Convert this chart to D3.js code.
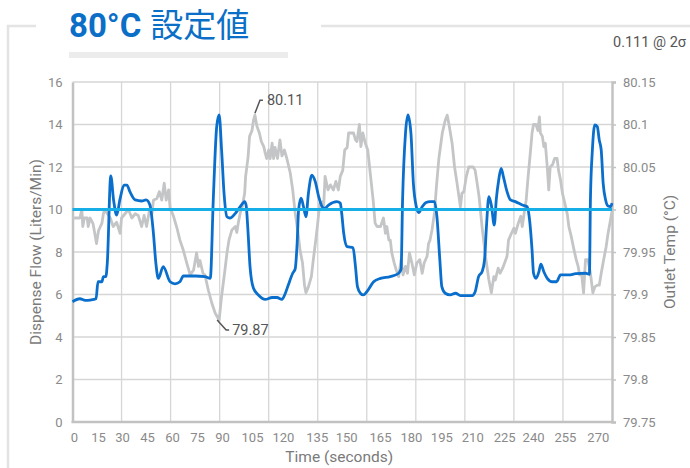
<!DOCTYPE html>
<html><head><meta charset="utf-8">
<script src="https://cdn.jsdelivr.net/npm/d3@7/dist/d3.min.js"></script>
<style>
html,body{margin:0;padding:0;background:#fff;}
svg{display:block;font-family:Roboto,"Noto Sans",sans-serif;}
</style></head>
<body><svg id="chart" width="690" height="468"></svg>
<script>
// ---- data ----
const titleMain = "80°C";
const titleSub = "設定値";
const noteText = "0.111 @ 2σ";
const setpointFlow = 10;
const flowTicks = [0,2,4,6,8,10,12,14,16];
const tempTicks = [79.75,79.8,79.85,79.9,79.95,80,80.05,80.1,80.15];
// time labels and the sample index where each label sits on the category axis
const timeLabels = [0,15,30,45,60,75,90,105,120,135,150,165,180,195,210,225,240,255,270];
const timeLabelIdx = [0.3,5.2,10.1,15.2,20.3,25.4,30.5,36.6,42.9,49.8,55.8,62.7,69.0,75.2,81.5,88.0,93.9,100.4,107.1];
const gridIdx = [0,10,20,30,40,50,60,70,80,90,100,110];
// dispense flow (L/min): [sample index, value]
const flow = [
[0,5.66],[1.5,5.8],[2.6,5.72],[3.6,5.74],[4.8,5.8],[5.2,6.6],[6.0,6.6],[6.3,6.84],[6.8,6.84],[7.1,7.5],[7.8,11.58],[8.4,10.4],[9.0,9.74],[9.7,10.5],[10.5,11.15],[11.1,11.15],[11.7,10.84],[12.8,10.45],[14.1,10.4],[15.0,10.45],[15.8,10.2],[16.5,8.88],[17.0,7.47],[17.5,6.76],[18.5,7.31],[19.9,6.6],[20.9,6.5],[21.9,6.6],[22.6,6.87],[25.0,6.87],[27.0,6.84],[28.1,6.76],[28.7,10.45],[29.4,13.9],[29.9,14.45],[30.4,12.8],[30.9,10.76],[31.5,9.66],[32.1,9.6],[33.2,9.82],[34.2,10.13],[35.1,10.37],[35.4,10.2],[35.8,8.9],[36.2,7.3],[36.9,6.29],[37.9,5.98],[39.3,5.77],[40.7,5.86],[41.7,5.86],[42.7,5.77],[43.4,6.06],[44.0,6.45],[44.9,7.0],[45.4,7.2],[45.8,8.4],[46.1,9.98],[46.6,10.53],[47.1,10.13],[47.6,9.66],[48.1,10.76],[48.8,11.62],[49.5,11.31],[50.2,10.6],[50.9,10.13],[51.4,10.05],[52.2,10.21],[53.9,10.37],[54.6,10.3],[54.9,9.8],[55.3,8.88],[56.0,8.25],[57.2,8.2],[57.7,7.3],[58.1,6.37],[58.7,6.06],[59.3,5.98],[60.0,6.13],[61.4,6.6],[62.8,6.76],[64.8,6.84],[66.5,7.0],[67.0,7.2],[67.3,10.45],[67.9,13.6],[68.4,14.45],[69.0,13.6],[69.5,11.23],[70.1,10.13],[70.6,9.85],[71.3,10.13],[72.1,10.33],[72.9,10.37],[73.8,10.37],[74.3,9.66],[74.9,7.62],[75.3,6.37],[76.0,6.06],[77.0,5.98],[78.1,6.06],[79.1,5.95],[81.5,5.95],[82.1,6.13],[82.8,6.84],[83.5,7.07],[84.0,7.6],[84.4,9.19],[84.9,10.6],[85.4,10.2],[86.0,9.27],[86.4,10.45],[86.9,11.39],[87.4,11.94],[87.9,11.5],[88.6,10.84],[89.3,10.45],[90.3,10.37],[91.7,10.21],[92.7,10.13],[93.2,9.5],[93.7,8.09],[94.0,7.0],[94.5,6.76],[95.1,7.07],[95.5,7.43],[96.1,7.07],[96.8,6.76],[97.8,6.6],[98.7,6.6],[99.5,6.92],[101.2,6.92],[102.6,6.98],[104.6,7.0],[105.4,6.95],[105.6,10.45],[106.0,12.8],[106.5,13.98],[107.0,13.9],[107.4,13.27],[107.8,12.8],[108.2,11.23],[108.7,10.45],[109.2,10.16],[109.7,10.13],[110,10.3]
];
// outlet temperature (°C): [sample index, value]
const temp = [
[0,79.990],[1.5,79.990],[1.9,80.000],[2.1,79.980],[2.4,79.990],[3.0,79.990],[3.2,79.980],[3.6,79.990],[4.2,79.983],[4.9,79.960],[5.3,79.975],[6.0,79.984],[6.3,79.995],[6.6,80.000],[7.1,79.995],[7.7,79.990],[8.3,79.980],[9.0,79.985],[9.7,79.972],[10.0,79.990],[10.7,79.995],[11.4,80.000],[12.1,79.990],[12.8,79.995],[13.4,79.993],[14.1,79.980],[14.6,79.993],[15.1,79.980],[15.7,79.999],[16.2,79.995],[16.5,80.011],[17.2,80.013],[17.7,80.021],[18.2,80.011],[18.7,80.031],[19.1,80.011],[19.6,80.023],[19.9,80.002],[20.6,79.992],[21.3,79.978],[21.9,79.964],[22.6,79.952],[23.3,79.937],[24.0,79.923],[24.7,79.929],[25.3,79.949],[25.7,79.933],[26.0,79.940],[26.6,79.925],[27.0,79.923],[27.7,79.905],[28.4,79.890],[29.1,79.878],[29.9,79.870],[30.4,79.898],[31.0,79.925],[31.5,79.949],[31.9,79.964],[32.5,79.976],[33.2,79.980],[33.5,79.973],[33.8,79.984],[34.2,79.996],[34.6,80.003],[35.1,80.019],[35.3,80.039],[35.8,80.062],[36.1,80.086],[36.6,80.093],[36.9,80.105],[37.2,80.111],[37.6,80.098],[38.1,80.090],[38.5,80.080],[39.0,80.074],[39.3,80.066],[39.6,80.060],[40.0,80.070],[40.3,80.060],[40.7,80.078],[41.0,80.060],[41.3,80.073],[41.8,80.060],[42.3,80.082],[42.7,80.063],[43.2,80.070],[43.7,80.060],[44.4,80.043],[44.9,80.023],[45.4,79.996],[46.0,79.972],[46.4,79.952],[46.9,79.937],[47.3,79.911],[47.6,79.902],[48.1,79.909],[48.7,79.921],[49.1,79.941],[49.6,79.964],[50.0,79.984],[50.4,80.007],[50.9,80.009],[51.2,80.003],[51.5,80.039],[52.1,80.023],[52.6,80.029],[53.2,80.023],[53.7,80.033],[54.2,80.023],[54.6,80.039],[55.1,80.046],[55.5,80.070],[56.0,80.073],[56.3,80.090],[57.3,80.090],[57.7,80.082],[58.0,80.080],[58.5,80.100],[58.8,80.074],[59.2,80.090],[59.7,80.078],[60.2,80.070],[60.7,80.043],[61.3,80.011],[61.7,79.984],[62.1,79.980],[62.8,79.980],[63.4,79.990],[63.8,79.972],[64.1,79.980],[64.5,79.964],[64.8,79.964],[65.1,79.949],[65.6,79.937],[66.0,79.929],[66.5,79.921],[67.0,79.941],[67.4,79.923],[67.9,79.933],[68.3,79.925],[68.7,79.949],[69.2,79.937],[69.7,79.923],[70.2,79.937],[70.8,79.941],[71.3,79.925],[71.7,79.937],[72.3,79.945],[72.6,79.960],[72.9,79.964],[73.3,79.976],[73.8,79.996],[74.2,80.027],[74.7,80.060],[75.4,80.090],[76.0,80.105],[76.4,80.111],[76.7,80.102],[77.4,80.078],[77.9,80.050],[78.4,80.031],[78.7,80.019],[79.1,80.003],[79.4,80.019],[79.8,80.021],[80.3,80.039],[80.8,80.050],[81.7,80.050],[82.1,80.046],[82.6,80.027],[82.9,80.015],[83.5,79.980],[84.2,79.945],[84.9,79.917],[85.4,79.902],[85.9,79.921],[86.2,79.917],[86.8,79.931],[87.2,79.925],[87.7,79.931],[88.1,79.937],[88.6,79.945],[88.9,79.964],[89.5,79.972],[90.0,79.978],[90.3,79.972],[90.9,79.984],[91.4,79.992],[91.7,79.980],[92.2,80.000],[92.5,80.011],[92.9,80.039],[93.4,80.070],[93.7,80.090],[94.0,80.100],[94.5,80.100],[94.9,80.093],[95.2,80.109],[95.4,80.090],[95.8,80.086],[96.1,80.074],[96.4,80.078],[96.8,80.050],[97.1,80.023],[97.4,80.050],[97.9,80.053],[98.3,80.060],[98.8,80.060],[99.1,80.046],[99.5,80.035],[99.9,80.019],[100.4,80.007],[100.9,79.994],[101.2,79.980],[101.7,79.968],[102.2,79.954],[102.7,79.941],[103.1,79.933],[103.4,79.923],[103.8,79.925],[104.2,79.902],[104.6,79.941],[105.1,79.941],[105.6,79.925],[106.1,79.902],[106.5,79.909],[107.0,79.911],[107.4,79.911],[107.8,79.925],[108.3,79.941],[108.8,79.956],[109.2,79.972],[109.7,79.988],[110,79.998]
];
const maxLabel = "80.11", minLabel = "79.87";

// ---- drawing ----
const svg = d3.select("#chart");
const L = 72.5, R = 612, T = 82, B = 422;
const x = d3.scaleLinear().domain([0,110]).range([L,R]);
const yL = d3.scaleLinear().domain([0,16]).range([B,T]);
const yR = d3.scaleLinear().domain([79.75,80.15]).range([B,T]);

const frameC = "#e4e4e4";
// frame
svg.append("path").attr("d","M8,468 V26 H36").attr("fill","none").attr("stroke",frameC).attr("stroke-width",2.5);
svg.append("line").attr("x1",321).attr("x2",690).attr("y1",26).attr("y2",26).attr("stroke",frameC).attr("stroke-width",2.5);
svg.append("rect").attr("x",69).attr("y",52).attr("width",219).attr("height",6).attr("fill","#ececec");

// title
const tt = svg.append("text").attr("x",69).attr("y",37).attr("fill","#0b6fc7").style("font-size","33px");
tt.append("tspan").attr("font-weight","bold").text(titleMain);
tt.append("tspan").attr("dx",9).attr("font-family","'Noto Sans CJK JP',sans-serif").attr("font-weight","normal").text(titleSub);
svg.append("text").attr("x",686).attr("y",47).attr("text-anchor","end").attr("fill","#555")
  .attr("font-family","Roboto, sans-serif").attr("font-weight","normal").attr("font-size","14.5px").text(noteText);

// grid
const gridC = "#d6d6d6";
svg.append("g").selectAll("line").data(flowTicks.slice(1)).join("line")
  .attr("x1",L).attr("x2",R).attr("y1",d=>yL(d)).attr("y2",d=>yL(d)).attr("stroke",gridC).attr("stroke-width",1.3);
svg.append("g").selectAll("line").data(gridIdx.slice(1,-1)).join("line")
  .attr("x1",d=>x(d)).attr("x2",d=>x(d)).attr("y1",T).attr("y2",B).attr("stroke",gridC).attr("stroke-width",1.3);

// axes
const axC = "#c2c2c2";
const gl = svg.append("g").attr("transform",`translate(${L},0)`).call(d3.axisLeft(yL).tickValues(flowTicks).tickSize(0).tickPadding(10));
const gr = svg.append("g").attr("transform",`translate(${R},0)`).call(d3.axisRight(yR).tickValues(tempTicks).tickSize(4).tickPadding(7).tickFormat(d3.format("~")));
const gb = svg.append("g").attr("transform",`translate(0,${B})`).call(
  d3.axisBottom(x).tickValues(timeLabelIdx).tickSize(0).tickPadding(11).tickFormat((d,i)=>timeLabels[i]));
[gl,gr,gb].forEach(g=>{
  g.select(".domain").attr("stroke",axC).attr("stroke-width",2.5);
  g.selectAll(".tick line").attr("stroke",axC).attr("stroke-width",1.5);
  g.selectAll("text").attr("fill","#8a8a8a").style("font-size","13px").style("font-family","Roboto,sans-serif");
});
gb.select(".domain").remove();
svg.append("line").attr("x1",L-1).attr("x2",R+1).attr("y1",B).attr("y2",B).attr("stroke",axC).attr("stroke-width",2.5);

// axis titles
svg.append("text").attr("transform",`translate(41,${(T+B)/2}) rotate(-90)`).attr("text-anchor","middle")
  .attr("fill","#7a7a7a").style("font-size","15.5px").text("Dispense Flow (Liters/Min)");
svg.append("text").attr("transform",`translate(675,${(T+B)/2}) rotate(-90)`).attr("text-anchor","middle")
  .attr("fill","#7a7a7a").style("font-size","15.5px").text("Outlet Temp (°C)");
svg.append("text").attr("x",(L+R)/2 - 3).attr("y",462).attr("text-anchor","middle")
  .attr("fill","#7a7a7a").style("font-size","15.5px").text("Time (seconds)");

// series
svg.append("path").datum(temp).attr("fill","none").attr("stroke","#c4c5c7").attr("stroke-width",2.8)
  .attr("stroke-linejoin","round").attr("d",d3.line().x(d=>x(d[0])).y(d=>yR(d[1])));
svg.append("path").datum(flow).attr("fill","none").attr("stroke","#0a6fcc").attr("stroke-width",2.8)
  .attr("stroke-linejoin","round").attr("d",d3.line().curve(d3.curveMonotoneX).x(d=>x(d[0])).y(d=>yL(d[1])));
svg.append("line").attr("x1",L).attr("x2",R).attr("y1",yL(setpointFlow)).attr("y2",yL(setpointFlow))
  .attr("stroke","#16aee6").attr("stroke-width",3);

// annotations
const mx = temp.reduce((a,b)=>b[1]>a[1]?b:a), mn = temp.reduce((a,b)=>b[1]<a[1]?b:a);
const px1 = x(mx[0]), py1 = yR(mx[1]);
svg.append("path").attr("d",`M${px1},${py1-2} L${px1+5},${py1-15} L${px1+8},${py1-15}`).attr("fill","none").attr("stroke","#555").attr("stroke-width",1.5);
svg.append("text").attr("x",px1+12).attr("y",py1-15).attr("dy","0.35em").attr("fill","#555").style("font-size","14.5px").text(maxLabel);
const px2 = x(mn[0]), py2 = yR(mn[1]);
svg.append("path").attr("d",`M${px2-2},${py2} L${px2+7},${py2+10} L${px2+10},${py2+10}`).attr("fill","none").attr("stroke","#555").attr("stroke-width",1.5);
svg.append("text").attr("x",px2+13).attr("y",py2+10).attr("dy","0.35em").attr("fill","#555").style("font-size","14.5px").text(minLabel);
</script></body></html>
